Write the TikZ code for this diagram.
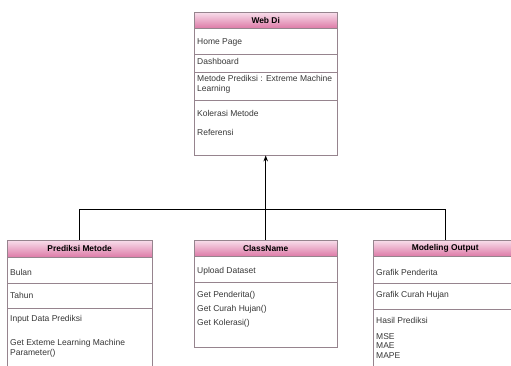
\documentclass[tikz,border=0pt]{standalone}
\usepackage{fontspec}
\setmainfont{Liberation Sans}
\usepackage{xcolor}
\usetikzlibrary{arrows.meta,positioning}
\definecolor{boxline}{RGB}{150,132,142}
\definecolor{pinktop}{RGB}{248,222,235}
\definecolor{pinkbot}{RGB}{221,122,167}
\definecolor{txtgray}{RGB}{55,55,55}

\begin{document}
\begin{tikzpicture}[x=1pt,y=-1pt,
  hdr/.style={draw=boxline,top color=pinktop,bottom color=pinkbot,minimum width=143pt,
    minimum height=16pt,inner sep=0pt,anchor=north west,font=\bfseries\fontsize{8.4}{9}\selectfont},
  part/.style={draw=boxline,fill=white,minimum width=143pt,inner sep=0pt,anchor=north west},
  item/.style={anchor=west,inner sep=0pt,text=txtgray,align=left,font=\fontsize{8.5}{10}\selectfont},
  link/.style={draw=black,line width=0.8pt}]
  \useasboundingbox (0,0) rectangle (511,365);
  \clip (0,0) rectangle (511,365);

  % Web Di
  \node[hdr] (webhdr) at (194,12) {Web Di};
  \node[part,minimum height=26pt] (webhome) at (194,28) {};
  \node[part,minimum height=18pt] (webdash) at (194,54) {};
  \node[part,minimum height=28pt] (webmetode) at (194,72) {};
  \node[part,minimum height=55pt] (webmisc) at (194,100) {};
  \node[item] (homepage) at (197,42) {Home Page};
  \node[item] (dashboard) at (197,61) {Dashboard};
  \node[item] (metode) at (197,84) {Metode Prediksi : Extreme Machine\\Learning};
  \node[item] (kolerasi) at (197,113) {Kolerasi Metode};
  \node[item] (referensi) at (197,132) {Referensi};

  % Prediksi Metode
  \node[hdr,minimum width=145pt,minimum height=17pt] (predhdr) at (7,240) {Prediksi Metode};
  \node[part,minimum width=145pt,minimum height=26pt] (predbulan) at (7,257) {};
  \node[part,minimum width=145pt,minimum height=25pt] (predtahun) at (7,283) {};
  \node[part,minimum width=145pt,minimum height=70pt] (predops) at (7,308) {};
  \node[item] (bulan) at (10,272) {Bulan};
  \node[item] (tahun) at (10,295) {Tahun};
  \node[item] (inputdata) at (10,319) {Input Data Prediksi};
  \node[item] (getelm) at (10,348) {Get Exteme Learning Machine\\Parameter()};

  % ClassName
  \node[hdr] (clshdr) at (194,240) {ClassName};
  \node[part,minimum height=26pt] (clsupload) at (194,256) {};
  \node[part,minimum height=65pt] (clsops) at (194,282) {};
  \node[item] (upload) at (197,271) {Upload Dataset};
  \node[item] (getpend) at (197,295) {Get Penderita()};
  \node[item] (getcurah) at (197,309) {Get Curah Hujan()};
  \node[item] (getkol) at (197,323) {Get Kolerasi()};

  % Modeling Output
  \node[hdr,minimum width=144pt] (outhdr) at (373,240) {Modeling Output};
  \node[part,minimum width=144pt,minimum height=27pt] (outgraf1) at (373,256) {};
  \node[part,minimum width=144pt,minimum height=26pt] (outgraf2) at (373,283) {};
  \node[part,minimum width=144pt,minimum height=70pt] (outhasil) at (373,309) {};
  \node[item] (grafpend) at (376,272) {Grafik Penderita};
  \node[item] (grafcurah) at (376,295) {Grafik Curah Hujan};
  \node[item] (hasil) at (376,320) {Hasil Prediksi};
  \node[item,font=\fontsize{8.5}{9.5}\selectfont] (metrics) at (376,346) {MSE\\MAE\\MAPE};

  % connectors
  \coordinate (joint) at (265.5,209);
  \coordinate (busL) at (predhdr.north |- joint);
  \coordinate (busR) at (outhdr.north |- joint);
  \draw[link] (predhdr.north) -- (busL) -- (busR) -- (outhdr.north);
  \draw[link,-{Stealth[length=6pt,width=4.5pt]}] (clshdr.north) -- (webmisc.south);
\end{tikzpicture}
\end{document}
